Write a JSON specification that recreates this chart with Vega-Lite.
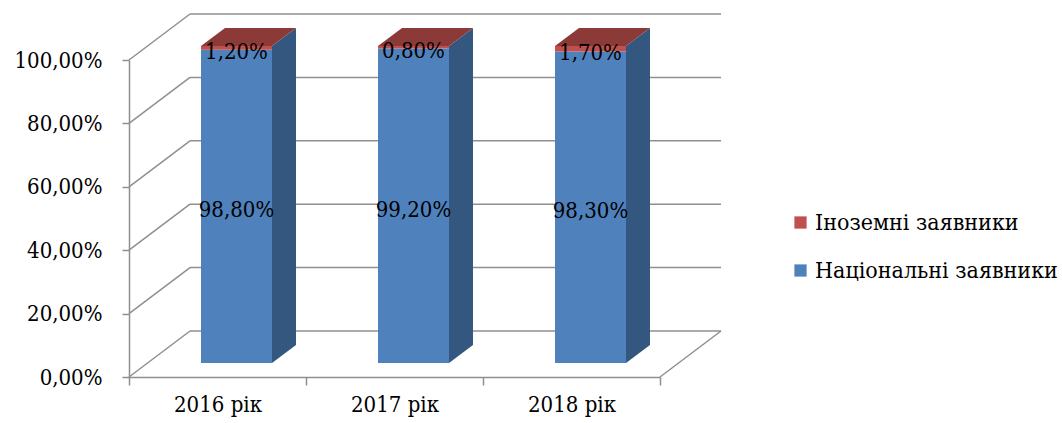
{
  "$schema": "https://vega.github.io/schema/vega-lite/v6.json",
  "autosize": {"type": "none"},
  "padding": {"left": 129, "top": 60, "right": 402, "bottom": 46},
  "width": 531,
  "height": 317,
  "config": {
    "view": {"stroke": null},
    "locale": {"number": {"decimal": ",", "thousands": " ", "grouping": [3], "currency": ["", " ₴"]}}
  },
  "datasets": {
    "bars": [
      {"year": "2016 рік", "series": "Національні заявники", "share": 0.988},
      {"year": "2016 рік", "series": "Іноземні заявники", "share": 0.012},
      {"year": "2017 рік", "series": "Національні заявники", "share": 0.992},
      {"year": "2017 рік", "series": "Іноземні заявники", "share": 0.008},
      {"year": "2018 рік", "series": "Національні заявники", "share": 0.983},
      {"year": "2018 рік", "series": "Іноземні заявники", "share": 0.017}
    ],
    "ticks": [{"t": 0}, {"t": 0.2}, {"t": 0.4}, {"t": 0.6}, {"t": 0.8}, {"t": 1}],
    "years": [{"year": "2016 рік"}, {"year": "2017 рік"}, {"year": "2018 рік"}]
  },
  "encoding": {
    "x": {
      "field": "year", "type": "nominal",
      "scale": {"domain": ["2016 рік", "2017 рік", "2018 рік"], "paddingInner": 0, "paddingOuter": 0},
      "axis": {
        "title": null, "labelAngle": 0, "labelFontSize": 22, "labelFont": "DejaVu Serif Condensed", "labelColor": "#000000",
        "labelPadding": 9, "domainColor": "#8f8f8f", "domainWidth": 1.5,
        "tickColor": "#8f8f8f", "tickWidth": 1.5, "tickSize": 8, "tickBand": "extent"
      }
    }
  },
  "layer": [
    {
      "data": {"name": "ticks"},
      "mark": {"type": "rule", "color": "#8f8f8f", "strokeWidth": 1.5, "xOffset": 61, "x2Offset": 61, "yOffset": -46, "y2Offset": -46},
      "encoding": {
        "x": {"value": 0},
        "x2": {"value": "width"},
        "y": {"field": "t", "type": "quantitative", "scale": {"domain": [0, 1]},
          "axis": {"title": null, "format": ".2%", "values": [0, 0.2, 0.4, 0.6, 0.8, 1],
            "labelFontSize": 22, "labelFont": "DejaVu Serif Condensed", "labelColor": "#000000", "labelPadding": 20, "grid": false,
            "domainColor": "#8f8f8f", "domainWidth": 1.5, "tickColor": "#8f8f8f", "tickWidth": 1.5, "tickSize": 7}},
        "y2": {"field": "t"}
      }
    },
    {
      "data": {"name": "ticks"},
      "mark": {"type": "rule", "color": "#8f8f8f", "strokeWidth": 1.5, "x2Offset": 61, "y2Offset": -46},
      "encoding": {
        "x": {"value": 0},
        "x2": {"value": 0},
        "y": {"field": "t", "type": "quantitative"},
        "y2": {"field": "t"}
      }
    },
    {
      "data": {"values": [{"t": 0}]},
      "mark": {"type": "rule", "color": "#8f8f8f", "strokeWidth": 1.5, "x2Offset": 61, "y2Offset": -46},
      "encoding": {
        "x": {"value": "width"},
        "x2": {"value": "width"},
        "y": {"field": "t", "type": "quantitative"},
        "y2": {"field": "t"}
      }
    },
    {
      "data": {"name": "years"},
      "mark": {"type": "point", "filled": true, "opacity": 1, "size": 4, "strokeWidth": 0,
        "shape": "M 54.5 -14 L 78.5 -32 L 78.5 -349 L 54.5 -331 Z", "color": "#34577f"},
      "encoding": {
        "y": {"datum": 0, "type": "quantitative"}
      }
    },
    {
      "data": {"name": "bars"},
      "transform": [
        {"stack": "share", "groupby": ["year"], "sort": [{"field": "series", "order": "descending"}], "as": ["y0", "y1"]},
        {"calculate": "(datum.y0 + datum.y1) / 2", "as": "ymid"}
      ],
      "layer": [
        {
          "mark": {"type": "bar", "width": 71, "xOffset": 19, "yOffset": -14, "y2Offset": -14},
          "encoding": {
            "y": {"field": "y1", "type": "quantitative"},
            "y2": {"field": "y0"},
            "color": {"field": "series", "type": "nominal",
              "scale": {"domain": ["Іноземні заявники", "Національні заявники"], "range": ["#c0504d", "#4f81bd"]},
              "legend": {"title": null, "orient": "none", "legendX": 660, "legendY": 151,
                "symbolType": "square", "symbolSize": 150, "symbolStrokeWidth": 0,
                "labelFont": "DejaVu Serif Condensed", "labelLimit": 0,
                "labelFontSize": 23, "labelColor": "#000000", "labelOffset": 3, "rowPadding": 24, "padding": 0}}
          }
        },
        {
          "transform": [{"filter": "datum.series == 'Іноземні заявники'"}],
          "mark": {"type": "point", "filled": true, "opacity": 1, "size": 4, "strokeWidth": 0,
            "shape": "M -16.5 -14 L 54.5 -14 L 78.5 -32 L 7.5 -32 Z", "color": "#8c3a38"},
          "encoding": {
            "y": {"field": "y1", "type": "quantitative"}
          }
        },
        {
          "mark": {"type": "text", "fontSize": 22, "font": "DejaVu Serif Condensed", "color": "#000000", "xOffset": 19, "yOffset": -10, "baseline": "middle"},
          "encoding": {
            "y": {"field": "ymid", "type": "quantitative"},
            "text": {"field": "share", "type": "quantitative", "format": ".2%"}
          }
        }
      ]
    }
  ]
}
